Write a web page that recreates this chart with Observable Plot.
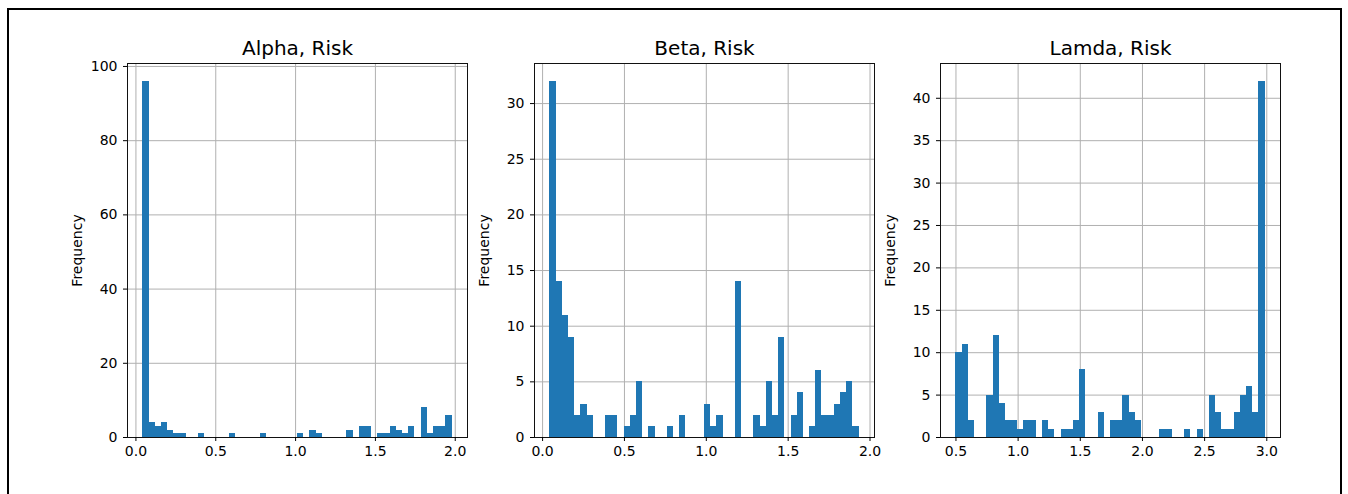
<!DOCTYPE html>
<html>
<head>
<meta charset="utf-8">
<script src="https://cdn.jsdelivr.net/npm/d3@7"></script>
<script src="https://cdn.jsdelivr.net/npm/@observablehq/plot@0.6"></script>
<style>
  html, body { margin: 0; padding: 0; background: white; }
  #wrap { position: relative; width: 1348px; height: 494px; overflow: hidden; background: white; font-family: "DejaVu Sans", sans-serif; }
  #border { position: absolute; left: 7px; top: 8px; width: 1331px; height: 500px; border: 2px solid #000; box-sizing: content-box; pointer-events: none; z-index: 5; }
  .panel { position: absolute; top: 0; }
</style>
</head>
<body>
<div id="wrap"><div id="border"></div></div>
<script>
// ---- Data ----
const titles = ["Alpha, Risk", "Beta, Risk", "Lamda, Risk"];

// 50-bin histogram counts
const alphaCounts = [96,4,3,4,2,1,1,0,0,1, 0,0,0,0,1,0,0,0,0,1, 0,0,0,0,0,1,0,2,1,0, 0,0,0,2,0,3,3,0,1,1, 3,2,1,3,0,8,1,3,3,6];
const betaCounts  = [32,14,11,9,2,3,2,0,0,2, 2,0,1,2,5,0,1,0,0,1, 0,2,0,0,0,3,1,2,0,0, 14,0,0,2,1,5,2,9,0,2, 4,0,1,6,2,2,3,4,5,1];
const lamdaCounts = [10,11,2,0,0,5,12,4,2,2, 1,2,2,0,2,1,0,1,1,2, 8,0,0,3,0,2,2,5,3,2, 0,0,0,1,1,0,0,1,0,1, 0,5,3,1,1,3,5,6,3,42];

// data range (min, max) of each histogram
const alphaRange = [0.044, 1.98];
const betaRange  = [0.045, 1.933];
const lamdaRange = [0.5, 2.986];

// tick values
const alphaXTicks = [0, 0.5, 1.0, 1.5, 2.0];
const betaXTicks  = [0, 0.5, 1.0, 1.5, 2.0];
const lamdaXTicks = [0.5, 1.0, 1.5, 2.0, 2.5, 3.0];
const alphaYTicks = [0, 20, 40, 60, 80, 100];
const betaYTicks  = [0, 5, 10, 15, 20, 25, 30];
const lamdaYTicks = [0, 5, 10, 15, 20, 25, 30, 35, 40];

const panels = [
  {title: titles[0], counts: alphaCounts, range: alphaRange, xt: alphaXTicks, yt: alphaYTicks, left: 127},
  {title: titles[1], counts: betaCounts,  range: betaRange,  xt: betaXTicks,  yt: betaYTicks,  left: 534},
  {title: titles[2], counts: lamdaCounts, range: lamdaRange, xt: lamdaXTicks, yt: lamdaYTicks, left: 940}
];

const ML = 90, MR = 12, FW = 340, MT = 63, FH = 374, MB = 40;
const wrap = document.getElementById("wrap");

for (const p of panels) {
  const [lo, hi] = p.range;
  const n = p.counts.length;
  const w = (hi - lo) / n;
  const bins = p.counts.map((c, i) => ({x1: lo + i * w, x2: lo + (i + 1) * w, count: c}));
  const pad = (hi - lo) * 0.05;
  const ymax = d3.max(p.counts) * 1.05;

  const chart = Plot.plot({
    width: ML + FW + MR,
    height: MT + FH + MB,
    marginLeft: ML, marginRight: MR, marginTop: MT, marginBottom: MB,
    style: {background: "transparent", fontFamily: "DejaVu Sans, sans-serif", fontSize: "14px", color: "#000", overflow: "visible"},
    x: {domain: [lo - pad, hi + pad]},
    y: {domain: [0, ymax]},
    marks: [
      Plot.gridX(p.xt, {stroke: "#b0b0b0", strokeOpacity: 1, strokeWidth: 1}),
      Plot.gridY(p.yt, {stroke: "#b0b0b0", strokeOpacity: 1, strokeWidth: 1}),
      Plot.rectY(bins, {x1: "x1", x2: "x2", y1: 0, y2: "count", fill: "#1f77b4", inset: 0, shapeRendering: "crispEdges"}),
      Plot.frame({stroke: "#111", strokeWidth: 1}),
      Plot.axisX(p.xt, {tickFormat: d3.format(".1f"), tickSize: 4, tickPadding: 5, label: null, fontSize: 14, fill: "#000"}),
      Plot.axisY(p.yt, {tickSize: 4, tickPadding: 6, label: "Frequency", labelAnchor: "center", labelOffset: 55, labelArrow: "none", fontSize: 14, fill: "#000"}),
      Plot.text([p.title], {frameAnchor: "top", lineAnchor: "bottom", dy: -9, fontSize: 20, fill: "#000"})
    ]
  });
  chart.classList.add("panel");
  chart.style.left = (p.left - ML) + "px";
  chart.style.position = "absolute";
  chart.style.top = "0px";
  wrap.appendChild(chart);
}
</script>
</body>
</html>
